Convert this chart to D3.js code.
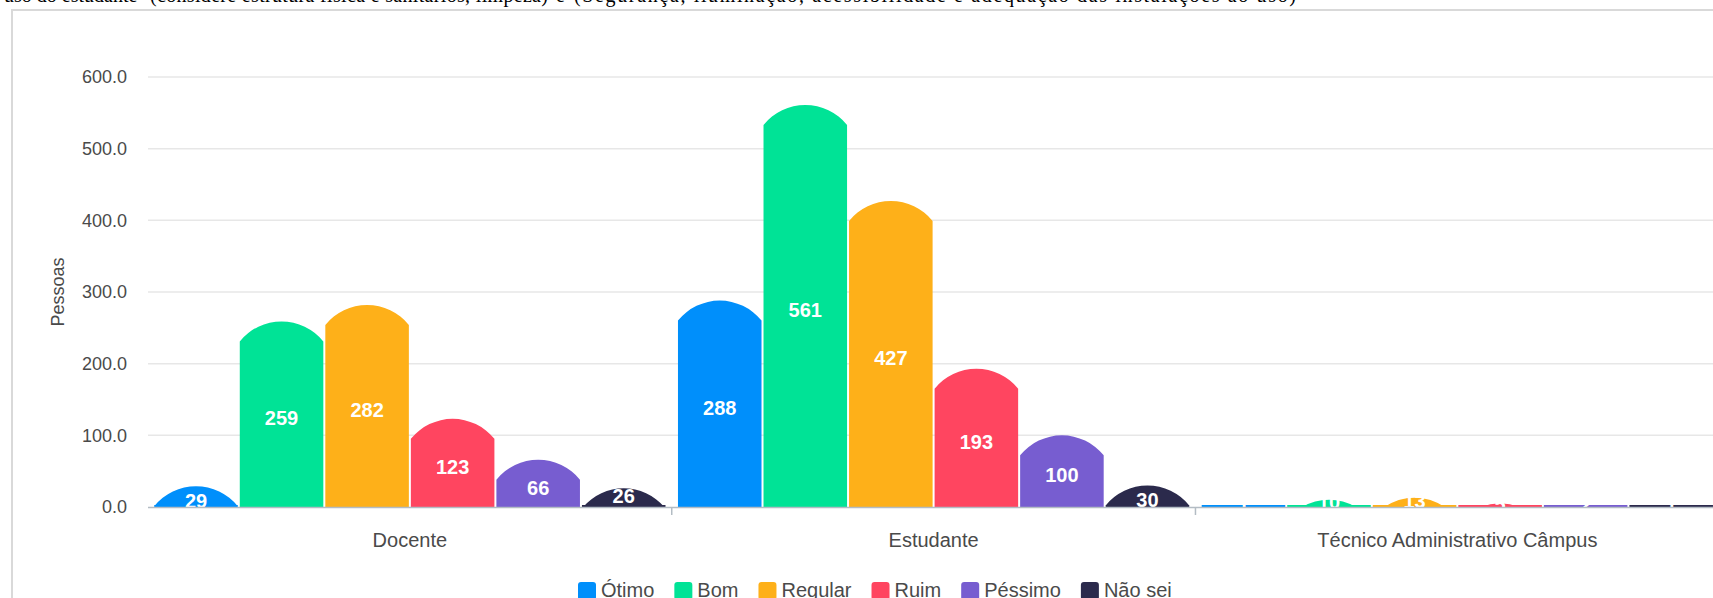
<!DOCTYPE html>
<html>
<head>
<meta charset="utf-8">
<script src="https://cdn.jsdelivr.net/npm/d3@7"></script>
<style>
  html, body { margin: 0; padding: 0; background: #ffffff; overflow: hidden; }
  svg { display: block; }
</style>
</head>
<body>
<svg id="chart" width="1713" height="598"></svg>
<script>
// ---- data ----
const categories = ["Docente", "Estudante", "Técnico Administrativo Câmpus"];
const seriesNames = ["Ótimo", "Bom", "Regular", "Ruim", "Péssimo", "Não sei"];
const otimo   = [29, 288, 1];
const bom     = [259, 561, 10];
const regular = [282, 427, 13];
const ruim    = [123, 193, 5];
const pessimo = [66, 100, 2];
const naoSei  = [26, 30, 1];
const seriesColors = ["#008FFB", "#00E396", "#FEB019", "#FF4560", "#775DD0", "#2B2A4C"];
const yTicks = [0, 100, 200, 300, 400, 500, 600];
const yTitle = "Pessoas";

const seriesValues = [otimo, bom, regular, ruim, pessimo, naoSei];
const data = [];
categories.forEach((c, ci) => {
  seriesNames.forEach((s, si) => {
    data.push({ cat: c, series: s, value: seriesValues[si][ci], color: seriesColors[si] });
  });
});

const svg = d3.select("#chart");
const FONT = "'Liberation Sans', Arial, Helvetica, sans-serif";

// clipped title text at the very top
const titleG = svg.append("g").attr("font-family", "'Liberation Serif', 'Times New Roman', serif")
  .attr("font-size", 20).attr("fill", "#000");
titleG.append("text").attr("x", 4).attr("y", 1.5).text("uso do estudante");
titleG.append("text").attr("x", 150).attr("y", 1.5).attr("textLength", 398)
  .text("(considere estrutura física e sanitários, limpeza)");
titleG.append("text").attr("x", 556).attr("y", 1.5).text("e");
titleG.append("text").attr("x", 574).attr("y", 1.5).attr("textLength", 722)
  .text("(Segurança, iluminação, acessibilidade e adequação das instalações ao uso)");

// frame
svg.append("path")
  .attr("d", "M12,598 L12,10 L1713,10")
  .attr("fill", "none").attr("stroke", "#d9d9d9").attr("stroke-width", 2);

// ---- scales ----
const plotLeft = 148, plotRight = 1719.2, baseY = 507, topY = 77;
const x0 = d3.scaleBand().domain(categories).range([plotLeft, plotRight]).padding(0);
const inner = x0.bandwidth() * 0.01;
const x1 = d3.scaleBand().domain(seriesNames).range([inner, x0.bandwidth() - inner]).padding(0);
const y = d3.scaleLinear().domain([0, 600]).range([baseY, topY]);

// gridlines
svg.append("g").selectAll("line").data(yTicks.filter(d => d > 0)).join("line")
  .attr("x1", plotLeft).attr("x2", 1713)
  .attr("y1", d => y(d)).attr("y2", d => y(d))
  .attr("stroke", "#e7e7e7").attr("stroke-width", 1.5);

// y axis labels
const yAxis = svg.append("g").attr("transform", `translate(${plotLeft},0)`)
  .call(d3.axisLeft(y).tickValues(yTicks).tickFormat(d3.format(".1f")).tickSize(0).tickPadding(21));
yAxis.select(".domain").remove();
yAxis.selectAll("text").attr("font-family", FONT).attr("font-size", 18).attr("fill", "#4a4a4a");

svg.append("text")
  .attr("transform", `translate(64,${(baseY + topY) / 2}) rotate(-90)`)
  .attr("text-anchor", "middle")
  .attr("font-family", FONT).attr("font-size", 18).attr("fill", "#4a4a4a")
  .text(yTitle);

// ---- bars ----
const SAG = 20; // cap height in px
function barPath(d) {
  const xl = x0(d.cat) + x1(d.series) + 1;
  const w = x1.bandwidth() - 2;
  const xr = xl + w;
  const cx = xl + w / 2;
  const top = y(d.value);
  const h = baseY - top;
  const R = (w * w / 4 + SAG * SAG) / (2 * SAG);
  let p = `M${xl},${baseY} L${xl},${baseY - 2} L${xr},${baseY - 2} L${xr},${baseY} Z`;
  if (h >= SAG) {
    p += `M${xl},${baseY} L${xl},${top + SAG} A${R},${R} 0 0 1 ${xr},${top + SAG} L${xr},${baseY} Z`;
  } else if (h > 0) {
    const hw = Math.sqrt(Math.max(0, 2 * R * h - h * h));
    p += `M${cx - hw},${baseY} A${R},${R} 0 0 1 ${cx + hw},${baseY} Z`;
  }
  return p;
}

svg.append("g").selectAll("path").data(data).join("path")
  .attr("d", barPath)
  .attr("fill", d => d.color);

// value labels
svg.append("g").selectAll("text").data(data).join("text")
  .attr("x", d => x0(d.cat) + x1(d.series) + x1.bandwidth() / 2)
  .attr("y", d => {
    const top = y(d.value);
    const h = baseY - top;
    return (top + baseY) / 2 + (h >= SAG ? 4 : -1.5);
  })
  .attr("dy", "0.36em")
  .attr("text-anchor", "middle")
  .attr("font-family", FONT).attr("font-size", 20).attr("font-weight", "bold")
  .attr("fill", "#ffffff")
  .text(d => d.value);

// x axis
svg.append("line").attr("x1", plotLeft).attr("x2", 1713).attr("y1", baseY + 0.5).attr("y2", baseY + 0.5)
  .attr("stroke", "#b3bcc4").attr("stroke-width", 1.5);
svg.append("g").selectAll("line").data(categories.slice(1)).join("line")
  .attr("x1", d => x0(d)).attr("x2", d => x0(d))
  .attr("y1", baseY).attr("y2", baseY + 8)
  .attr("stroke", "#b3bcc4").attr("stroke-width", 1.5);

const xAxis = svg.append("g").attr("transform", `translate(0,${baseY})`)
  .call(d3.axisBottom(x0).tickSize(0).tickPadding(26));
xAxis.select(".domain").remove();
xAxis.selectAll("text").attr("font-family", FONT).attr("font-size", 20).attr("fill", "#4a4a4a");

// legend
const legend = svg.append("g").attr("font-family", FONT).attr("font-size", 20);
let lx = 578;
seriesNames.forEach((s, i) => {
  legend.append("rect").attr("x", lx).attr("y", 582).attr("width", 18).attr("height", 18)
    .attr("rx", 3).attr("fill", seriesColors[i]);
  const t = legend.append("text").attr("x", lx + 23).attr("y", 597).attr("fill", "#4a4a4a").text(s);
  lx += 23 + t.node().getComputedTextLength() + 20;
});
</script>
</body>
</html>
